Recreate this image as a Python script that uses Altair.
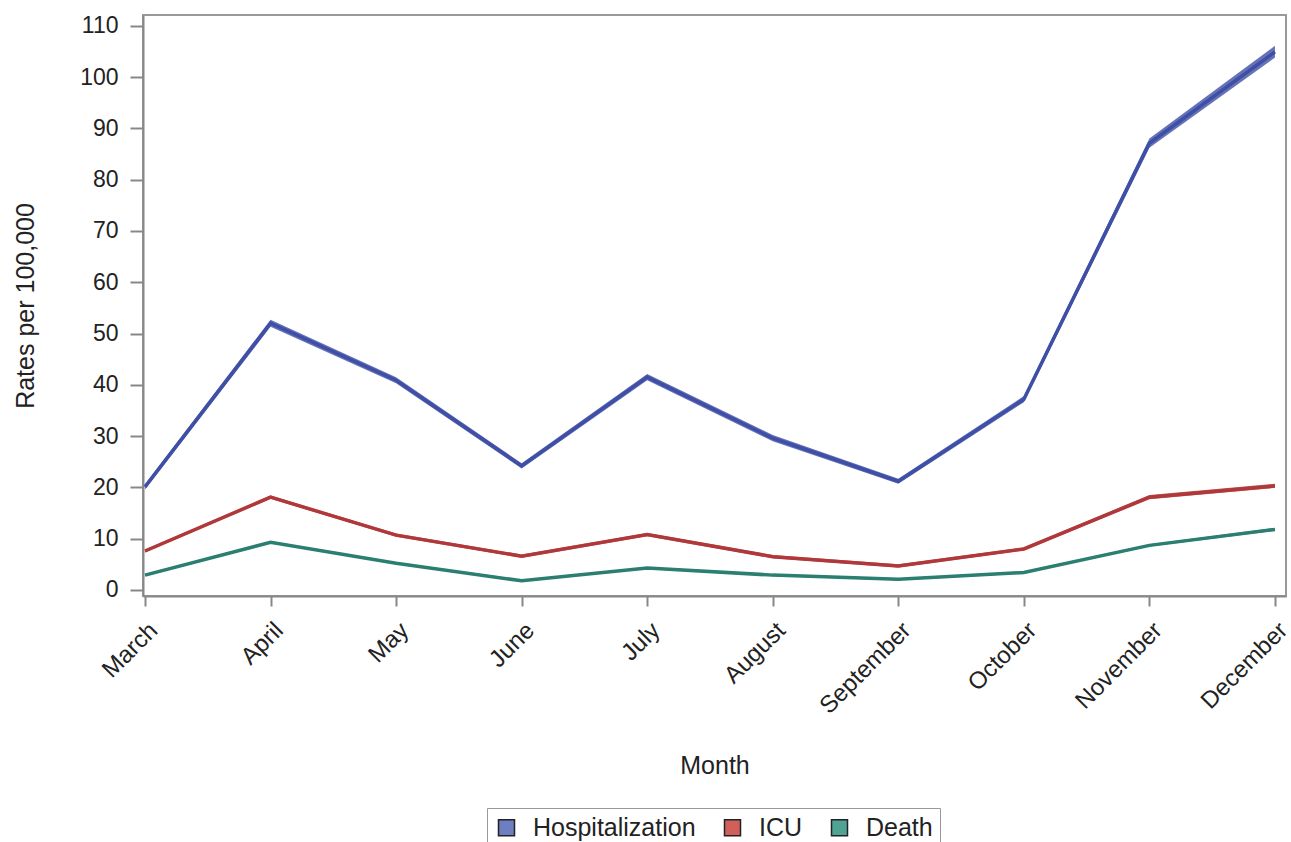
import altair as alt
import pandas as pd

months = ["March", "April", "May", "June", "July", "August", "September",
          "October", "November", "December"]
series = ["Hospitalization", "ICU", "Death"]

hosp = [20.1, 52.0, 40.9, 24.2, 41.5, 29.6, 21.2, 37.2, 87.1, 104.9]
hosp_lo = [19.6, 51.3, 40.3, 23.7, 40.9, 29.0, 20.7, 36.6, 86.2, 103.8]
hosp_hi = [20.6, 52.7, 41.5, 24.7, 42.1, 30.2, 21.7, 37.8, 88.0, 106.1]

icu = [7.6, 18.1, 10.7, 6.6, 10.8, 6.5, 4.7, 8.0, 18.1, 20.3]
icu_lo = [7.3, 17.8, 10.4, 6.3, 10.5, 6.2, 4.4, 7.7, 17.7, 19.9]
icu_hi = [7.9, 18.4, 11.0, 6.9, 11.1, 6.8, 5.0, 8.3, 18.5, 20.7]

death = [2.9, 9.3, 5.2, 1.8, 4.3, 2.9, 2.1, 3.4, 8.7, 11.8]
death_lo = [2.7, 9.1, 5.0, 1.6, 4.1, 2.7, 1.9, 3.2, 8.5, 11.5]
death_hi = [3.1, 9.5, 5.4, 2.0, 4.5, 3.1, 2.3, 3.6, 8.9, 12.1]

line_colors = ["#3F4FA6", "#B0383A", "#2B7F70"]
legend_fills = ["#6F7EC0", "#D2605A", "#4FA393"]

rows = []
for name, v, lo, hi in [("Hospitalization", hosp, hosp_lo, hosp_hi),
                        ("ICU", icu, icu_lo, icu_hi),
                        ("Death", death, death_lo, death_hi)]:
    for i, m in enumerate(months):
        rows.append({"series": name, "idx": i, "month": m,
                     "value": v[i], "lo": lo[i], "hi": hi[i]})
df = pd.DataFrame(rows)

label_expr = "[" + ",".join(f"'{m}'" for m in months) + "][datum.value]"

font = "Liberation Sans"

x = alt.X("idx:Q",
          scale=alt.Scale(domain=[-0.016, 9.088], nice=False, zero=False),
          axis=alt.Axis(title="Month", values=list(range(10)),
                        labelExpr=label_expr, labelAngle=-45,
                        labelFontSize=24, titleFontSize=25, titlePadding=36,
                        tickSize=10, grid=False, labelPadding=12))
y_scale = alt.Scale(domain=[-1.17, 112.1], nice=False, zero=False)
y = alt.Y("value:Q", scale=y_scale,
          axis=alt.Axis(title="Rates per 100,000", values=list(range(0, 111, 10)),
                        labelFontSize=23, titleFontSize=25, titlePadding=41,
                        tickSize=13, grid=False, labelPadding=12))

stroke = alt.Stroke("series:N", scale=alt.Scale(domain=series, range=line_colors),
                    legend=None)

band = alt.Chart(df).mark_area(opacity=0.8).encode(
    x=x,
    y=alt.Y("lo:Q", scale=y_scale),
    y2="hi:Q",
    fill=alt.Fill("series:N", scale=alt.Scale(domain=series, range=line_colors),
                  legend=None),
    detail="series:N",
)

lines = alt.Chart(df).mark_line(strokeWidth=3.5, strokeJoin="miter").encode(
    x=x, y=y, stroke=stroke, detail="series:N"
)

legend_layer = alt.Chart(df).mark_point(shape="square", filled=True, opacity=0).encode(
    x=x, y=y,
    color=alt.Color("series:N",
                    scale=alt.Scale(domain=series, range=legend_fills),
                    legend=alt.Legend(title=None, orient="none", direction="horizontal",
                                      legendX=344, legendY=793,
                                      symbolOpacity=1, symbolType="square",
                                      symbolSize=256, symbolStrokeColor="#222",
                                      symbolStrokeWidth=1.5,
                                      labelFontSize=25, labelColor="#222",
                                      labelLimit=400,
                                      columnPadding=24, symbolOffset=0,
                                      padding=7, strokeColor="#999",
                                      labelOffset=14)),
)

chart = alt.layer(band, lines, legend_layer).resolve_scale(
    fill="independent", color="independent", stroke="independent"
).properties(
    width=1143, height=581,
    autosize=alt.AutoSizeParams(type="none"),
    padding={"left": 143, "top": 15, "right": 5, "bottom": 246},
    background="white",
).configure_view(
    stroke="#999", strokeWidth=2
).configure_axis(
    labelFont=font, titleFont=font, labelColor="#222", titleColor="#222",
    domainColor="#888", domainWidth=2, tickColor="#888", tickWidth=2,
    titleFontWeight="normal"
).configure_legend(
    labelFont=font
)

chart.save("out.html", embed_options={"renderer": "svg", "actions": False})
